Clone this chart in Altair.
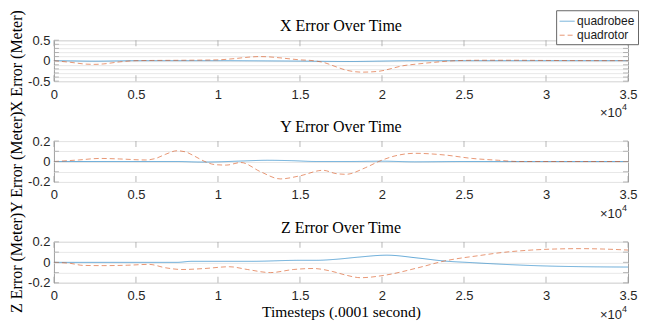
import altair as alt
import pandas as pd

SERIES = ["quadrobee", "quadrotor"]
COLORS = ["#0072BD", "#D95319"]

SANS = "Liberation Sans"
SERIF = "Liberation Serif"

x_tick_values = [0, 5000, 10000, 15000, 20000, 25000, 30000, 35000]
x_tick_labels = ["0", "0.5", "1", "1.5", "2", "2.5", "3", "3.5"]
x_exp_base = "×10"
x_exp_power = "4"
x_title = "Timesteps (.0001 second)"

# ---------- X error ----------
x_bee_t = [0, 1000, 2500, 4000, 5000, 10000, 13000, 15000, 18000, 20000, 22000, 35000]
x_bee_v = [0, -0.005, -0.012, -0.005, 0, 0, -0.005, -0.01, -0.02, -0.01, 0, 0]
x_rot_t = [0, 1000, 2000, 2500, 3000, 4000, 5000, 6000, 8000, 10000, 11000, 12000, 12500,
           13000, 14000, 15000, 15800, 16500, 17200, 17800, 18800, 19800, 20600, 21200,
           22200, 23200, 24500, 26000, 28000, 30000, 35000]
x_rot_v = [0, -0.04, -0.085, -0.09, -0.08, -0.03, 0, 0.005, 0.01, 0.02, 0.05, 0.09, 0.1,
           0.095, 0.06, 0.02, 0, -0.05, -0.15, -0.23, -0.28, -0.26, -0.19, -0.13,
           -0.08, -0.04, 0, 0.01, 0.01, 0.005, 0]

# ---------- Y error ----------
y_bee_t = [0, 5000, 7500, 9000, 10000, 11500, 13000, 14500, 16000, 18000, 20000, 22000, 25000, 35000]
y_bee_v = [0, 0, 0, -0.005, -0.003, 0.005, 0.012, 0.008, 0, 0, 0.003, -0.003, 0, 0]
y_rot_t = [0, 1500, 2800, 4000, 5600, 6200, 6800, 7500, 8000, 8600, 9200, 9800, 10500,
           11400, 12600, 13800, 15000, 16400, 17200, 17800, 19000, 19800, 20800, 22000,
           23800, 25500, 27100, 28300, 35000]
y_rot_v = [0, 0.015, 0.03, 0.025, 0.015, 0.03, 0.07, 0.105, 0.095, 0.05, 0, -0.03, -0.035,
           -0.01, -0.1, -0.17, -0.14, -0.086, -0.118, -0.125, -0.06, 0, 0.055, 0.08,
           0.064, 0.03, 0.012, 0, 0]

# ---------- Z error ----------
z_bee_t = [0, 5000, 7500, 8400, 12000, 15000, 16000, 17200, 18500, 20300, 22200, 23800,
           25500, 27100, 30100, 32000, 35000]
z_bee_v = [0, 0, 0, 0.01, 0.01, 0.02, 0.02, 0.03, 0.05, 0.07, 0.042, 0.013, -0.003,
           -0.017, -0.036, -0.042, -0.046]
z_rot_t = [0, 1000, 1800, 3000, 4500, 5800, 6800, 7800, 9200, 10700, 11800, 13200, 14600,
           15800, 17000, 17800, 18700, 20200, 22200, 23800, 26100, 27000, 29100, 30500,
           32100, 33500, 35000]
z_rot_v = [0, -0.01, -0.03, -0.032, -0.028, -0.02, -0.053, -0.07, -0.06, -0.043, -0.07,
           -0.1, -0.07, -0.06, -0.09, -0.125, -0.15, -0.125, -0.053, 0.013, 0.07, 0.09,
           0.12, 0.13, 0.134, 0.13, 0.12]

x_grid = [-0.5, -0.4, -0.3, -0.2, -0.1, 0, 0.1, 0.2, 0.3, 0.4, 0.5]
x_major = [-0.5, 0, 0.5]
x_major_labels = ["-0.5", "0", "0.5"]
yz_grid = [-0.2, -0.1, 0, 0.1, 0.2]
yz_major = [-0.2, 0, 0.2]
yz_major_labels = ["-0.2", "0", "0.2"]

W = 575
H = 41
TICK = "#9a9a9a"


def label_expr(vals, labels):
    expr = "''"
    for v, l in reversed(list(zip(vals, labels))):
        expr = f"abs(datum.value - ({v})) < 1e-9 ? '{l}' : {expr}"
    return expr


def text_layer(s, **kw):
    return alt.Chart(pd.DataFrame({"s": [s]})).mark_text(**kw)


def panel(title, bee_t, bee_v, rot_t, rot_v, ydom, grid_vals, major_vals, major_labels,
          y_title, bottom=False, legend=None):
    df = pd.DataFrame({
        "t": list(bee_t) + list(rot_t),
        "v": list(bee_v) + list(rot_v),
        "s": [SERIES[0]] * len(bee_t) + [SERIES[1]] * len(rot_t),
    })
    xscale = alt.Scale(domain=[0, 35000], nice=False, zero=False)
    yscale = alt.Scale(domain=ydom, nice=False, zero=False)
    x_axis_kw = dict(values=x_tick_values, labelExpr=label_expr(x_tick_values, x_tick_labels),
                     grid=False, ticks=False, domain=False, labelPadding=7)
    if bottom:
        x_axis_kw.update(title=x_title, titlePadding=2, titleFontSize=15.5)
    else:
        x_axis_kw.update(title=None)
    x_axis = alt.Axis(**x_axis_kw)
    y_axis = alt.Axis(values=grid_vals, labelExpr=label_expr(major_vals, major_labels),
                      grid=True, ticks=False, domain=False, labelPadding=4,
                      title=y_title, titlePadding=3)
    lines = alt.Chart(df).mark_line(interpolate="monotone", strokeWidth=1, opacity=0.6).encode(
        x=alt.X("t:Q", scale=xscale, axis=x_axis),
        y=alt.Y("v:Q", scale=yscale, axis=y_axis),
        color=alt.Color("s:N", scale=alt.Scale(domain=SERIES, range=COLORS), legend=legend),
        strokeDash=alt.StrokeDash("s:N", scale=alt.Scale(domain=SERIES, range=[[1, 0], [5, 3]]),
                                  legend=legend),
    )
    xt = pd.DataFrame({"t": x_tick_values})
    yt = pd.DataFrame({"v": grid_vals})
    xt_top = alt.Chart(xt).mark_tick(orient="vertical", size=6, thickness=1, color=TICK).encode(
        x=alt.X("t:Q", scale=xscale, axis=x_axis), y=alt.value(3))
    xt_bot = alt.Chart(xt).mark_tick(orient="vertical", size=6, thickness=1, color=TICK).encode(
        x=alt.X("t:Q", scale=xscale, axis=x_axis), y=alt.value(H - 3))
    yt_l = alt.Chart(yt).mark_tick(orient="horizontal", size=5, thickness=1, color=TICK).encode(
        y=alt.Y("v:Q", scale=yscale, axis=y_axis), x=alt.value(2.5))
    yt_r = alt.Chart(yt).mark_tick(orient="horizontal", size=5, thickness=1, color=TICK).encode(
        y=alt.Y("v:Q", scale=yscale, axis=y_axis), x=alt.value(W - 2.5))
    e1 = text_layer(x_exp_base, align="right", baseline="middle", font=SANS, fontSize=13,
                    color="#262626").encode(text="s:N", x=alt.value(W - 6), y=alt.value(H + 32))
    e2 = text_layer(x_exp_power, align="left", baseline="middle", font=SANS, fontSize=9,
                    color="#262626").encode(text="s:N", x=alt.value(W - 6), y=alt.value(H + 26))
    ttl = text_layer(title, align="center", baseline="alphabetic", font=SERIF, fontSize=16,
                     color="#000000").encode(text="s:N", x=alt.value(W / 2), y=alt.value(-9))
    return alt.layer(lines, xt_top, xt_bot, yt_l, yt_r, e1, e2, ttl).properties(
        width=W, height=H)


legend = alt.Legend(orient="none", legendX=503, legendY=-30, title=None, symbolType="stroke",
                    symbolSize=225, symbolStrokeWidth=1, symbolOpacity=0.6,
                    labelFont=SANS, labelFontSize=12, labelColor="#1a1a1a",
                    fillColor="white", strokeColor="#666666", padding=3, rowPadding=0,
                    labelOffset=2)

p1 = panel("X Error Over Time", x_bee_t, x_bee_v, x_rot_t, x_rot_v, [-0.5, 0.5],
           x_grid, x_major, x_major_labels, "X Error (Meter)", legend=legend)
p2 = panel("Y Error Over Time", y_bee_t, y_bee_v, y_rot_t, y_rot_v, [-0.2, 0.2],
           yz_grid, yz_major, yz_major_labels, "Y Error (Meter)")
p3 = panel("Z Error Over Time", z_bee_t, z_bee_v, z_rot_t, z_rot_v, [-0.2, 0.2],
           yz_grid, yz_major, yz_major_labels, "Z Error (Meter)", bottom=True)

chart = alt.vconcat(p1, p2, p3, spacing=60, bounds="flush").properties(
    padding={"left": 0, "top": 0, "right": 0, "bottom": 0}
).configure_view(stroke="#a0a0a0", strokeWidth=1).configure_axis(
    labelFont=SANS, labelFontSize=13, labelColor="#262626",
    titleFont=SERIF, titleFontSize=16, titleFontWeight="normal", titleColor="#000000",
    gridColor="#e8e8e8", gridWidth=1, labelFlush=False, labelOverlap=False,
)

chart.save("out.html", embed_options={"renderer": "svg", "actions": False})
